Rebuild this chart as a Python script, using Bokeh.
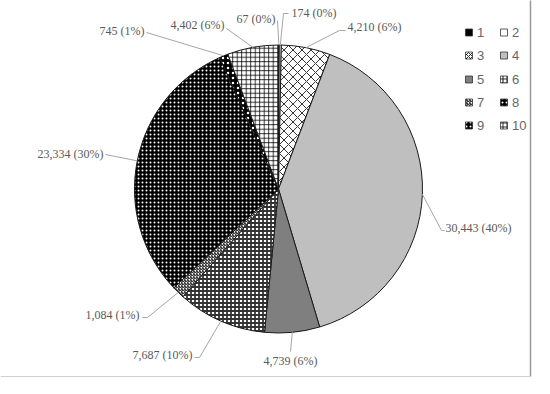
import math
from bokeh.plotting import figure
from bokeh.models import Range1d, ColumnDataSource
from bokeh.core.properties import value
from bokeh.embed import file_html
from bokeh.resources import INLINE

# ---- data ----
categories = ["1", "2", "3", "4", "5", "6", "7", "8", "9", "10"]
counts = [67, 174, 4210, 30443, 4739, 7687, 1084, 23334, 745, 4402]
pct_labels = ["0%", "0%", "6%", "40%", "6%", "10%", "1%", "30%", "1%", "6%"]

# ---- styles ----
fills = ["#000000", "#ffffff", "#ffffff", "#bfbfbf", "#7f7f7f",
         "#ffffff", "#ffffff", "#000000", "#000000", "#ffffff"]
hatches = [" ", " ", "diagonal_cross", " ", " ",
           "cross", "right_diagonal_line", "dot", "dot", "cross"]
hatch_colors = ["black", "black", "black", "black", "black",
                "#333333", "black", "white", "white", "black"]
hatch_scales = [6, 6, 9, 6, 6, 4, 3, 4, 5, 4.5]
hatch_weights = [1, 1, 0.8, 1, 1, 1.8, 1, 0.9, 2.5, 0.8]

# ---- layout (page pixel coordinates; data y = H - page y) ----
H = 394
CX, CY, R = 286, 196.5, 144
# label text anchor (page coords) and alignment
lab_x = [283, 299, 355, 453, 298, 200, 147, 111, 152, 232]
lab_y = [26, 20, 34, 235, 368, 362, 322, 161, 38, 32]
lab_align = ["right", "left", "left", "left", "center", "right", "right", "right", "right", "right"]
# leader points on the label side (page coords), arc point is computed
lead_pts = [
    [(285, 28)],
    [(296, 21), (291, 21)],
    [(353, 38), (347, 38)],
    [(452, 238), (449, 238)],
    [(298, 359)],
    [(202, 365), (207, 365)],
    [(150, 325), (155, 325)],
    [(113, 162)],
    [(154, 40)],
    [(234, 36)],
]
leg_col_x = [476.5, 511.5]
leg_row_y = [40, 63, 87, 110, 133]

total = float(sum(counts))
starts, ends, mids = [], [], []
cum = 0.0
for v in counts:
    a0 = math.pi / 2 - 2 * math.pi * cum / total
    cum += v
    a1 = math.pi / 2 - 2 * math.pi * cum / total
    starts.append(a0)
    ends.append(a1)
    mids.append((a0 + a1) / 2)

p = figure(width=534, height=378, output_backend="svg", toolbar_location=None,
           x_range=Range1d(8, 542), y_range=Range1d(H - 386, H - 8),
           min_border=0)
p.axis.visible = False
p.grid.visible = False
p.outline_line_color = None
p.background_fill_color = "white"

# frame lines of the original chart area
p.segment(x0=[538, 8], y0=[H - 3, H - 384], x1=[538, 538], y1=[H - 384, H - 384],
          line_color=["#9a9a9a", "#d0d0d0"], line_width=[1.5, 1])

src = ColumnDataSource(dict(cat=categories, val=counts, start=starts, end=ends,
                            fill=fills, hatch=hatches, hcol=hatch_colors,
                            hscale=hatch_scales, hweight=hatch_weights))
p.wedge(x=CX, y=H - CY, radius=R, start_angle="start", end_angle="end",
        direction="clock", source=src, fill_color="fill",
        hatch_pattern="hatch", hatch_color="hcol", hatch_scale="hscale",
        hatch_weight="hweight", line_color="#1a1a1a", line_width=1)

# leader lines
xs, ys = [], []
for i, m in enumerate(mids):
    ax = CX + R * math.cos(m)
    ay = (H - CY) + R * math.sin(m)
    xs.append([pt[0] for pt in lead_pts[i]] + [ax])
    ys.append([H - pt[1] for pt in lead_pts[i]] + [ay])
p.multi_line(xs=xs, ys=ys, line_color="#a6a6a6", line_width=1)

labels = [f"{v:,} ({pc})" for v, pc in zip(counts, pct_labels)]
for i in range(len(counts)):
    p.text(x=[lab_x[i]], y=[H - lab_y[i]], text=[labels[i]],
           text_font=value("Liberation Serif"), text_font_size="12px",
           text_color="#595959", text_align=lab_align[i], text_baseline="middle")

# legend (two columns)
lx, ly, tx = [], [], []
for i in range(len(categories)):
    col = i % 2
    row = i // 2
    lx.append(leg_col_x[col])
    ly.append(H - leg_row_y[row])
    tx.append(leg_col_x[col] + 8)
p.rect(x=lx, y=ly, width=7, height=7, fill_color=fills, hatch_pattern=hatches,
       hatch_color=hatch_colors, hatch_scale=[min(s, 4) for s in hatch_scales],
       hatch_weight=[min(w, 1.2) for w in hatch_weights],
       line_color="#333333", line_width=0.8)
p.text(x=tx, y=ly, text=categories, text_font=value("Liberation Sans"),
       text_font_size="13px", text_color="#666666", text_align="left",
       text_baseline="middle")

open("out.html", "w").write(file_html(p, INLINE))
